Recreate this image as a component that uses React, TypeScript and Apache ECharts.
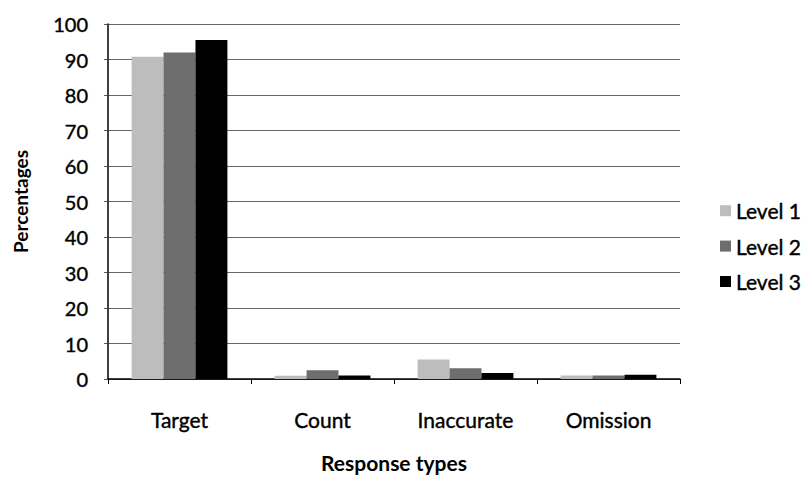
import React, { useEffect, useRef } from "react";
import * as echarts from "echarts";

const categories = ["Target", "Count", "Inaccurate", "Omission"];
const level1 = [90.8, 0.9, 5.5, 1.0];
const level2 = [92.0, 2.5, 3.0, 1.0];
const level3 = [95.5, 1.0, 1.7, 1.2];
const seriesNames = ["Level 1", "Level 2", "Level 3"];
const colors = ["#bdbdbd", "#6e6e6e", "#000000"];
const font = "Lato, 'Open Sans', sans-serif";

export default function App() {
  const ref = useRef<HTMLDivElement>(null);
  useEffect(() => {
    if (!ref.current) return;
    const chart = echarts.init(ref.current, null, { renderer: "svg" });
    const data = [level1, level2, level3];
    const heavy = { textBorderColor: "#000", textBorderWidth: 0.4 };
    chart.setOption({
      animation: false,
      backgroundColor: "#ffffff",
      textStyle: { fontFamily: font },
      grid: { left: 108, right: 124, top: 24, bottom: 93 },
      legend: {
        orient: "vertical",
        left: 715,
        top: 195,
        itemWidth: 11,
        itemHeight: 11,
        itemGap: 14,
        icon: "rect",
        textStyle: { fontSize: 21, color: "#000", fontFamily: font, ...heavy },
        data: seriesNames,
      },
      xAxis: {
        type: "category",
        data: categories,
        name: "Response types",
        nameLocation: "middle",
        nameGap: 73,
        nameTextStyle: { fontSize: 21, fontWeight: "bold", color: "#000", fontFamily: font },
        axisLine: { lineStyle: { color: "#000", width: 1.5 } },
        axisTick: { show: true, length: 5, lineStyle: { color: "#000" } },
        axisLabel: { fontSize: 21, color: "#000", margin: 30, fontFamily: font, ...heavy },
      },
      yAxis: {
        type: "value",
        min: 0,
        max: 100,
        interval: 10,
        name: "Percentages",
        nameLocation: "middle",
        nameGap: 78,
        nameTextStyle: { fontSize: 19, fontWeight: "bold", color: "#000", fontFamily: font },
        axisLine: { show: true, lineStyle: { color: "#000", width: 1.5 } },
        axisTick: { show: true, length: 4, lineStyle: { color: "#555" } },
        axisLabel: { fontSize: 20, color: "#000", margin: 20, fontFamily: font, ...heavy },
        splitLine: { lineStyle: { color: "#666", width: 1 } },
      },
      series: seriesNames.map((n, i) => ({
        name: n,
        type: "bar",
        data: data[i],
        barGap: "0%",
        barCategoryGap: "33%",
        itemStyle: { color: colors[i] },
      })),
    });
    return () => chart.dispose();
  }, []);
  return <div ref={ref} style={{ width: 804, height: 478, position: "absolute", left: 0, top: 0 }} />;
}
